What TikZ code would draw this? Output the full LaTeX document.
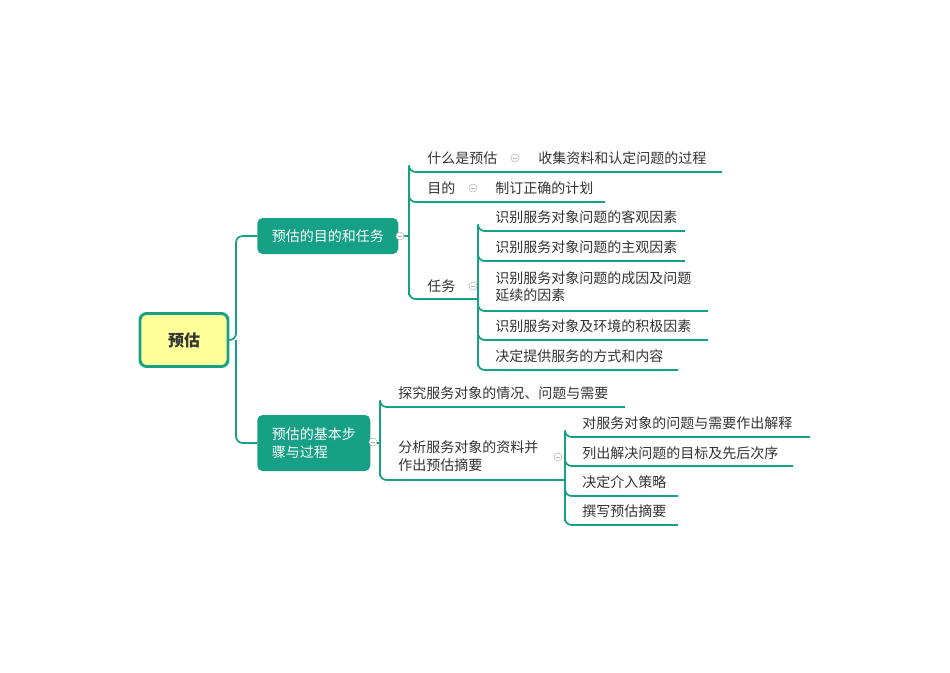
\documentclass[tikz,border=0pt]{standalone}
\usepackage{fontspec}
\newfontfamily\cjk{Noto Sans CJK SC}
\begin{document}
\begin{tikzpicture}[x=0.75pt,y=-0.75pt,
  ln/.style={draw=linec,line width=1.3pt},
  con/.style={draw=linec,line width=1.3pt,rounded corners=5pt},
  txt/.style={font=\cjk\fontsize{10.5}{13}\selectfont,text=txtc,anchor=west,inner sep=0pt,align=left},
  mainbox/.style={fill=linec,rounded corners=4pt,text=white,font=\cjk\fontsize{10.5}{14}\selectfont,align=left,inner sep=0pt},
  tog/.style={circle,draw=gray!60,fill=white,minimum size=6pt,inner sep=0pt,line width=0.4pt}]
\definecolor{linec}{HTML}{16A085}
\definecolor{txtc}{HTML}{333333}
\definecolor{rootc}{HTML}{FFFF99}
\useasboundingbox (0,0) rectangle (950,672);
% root
\node[draw=linec,line width=2.2pt,fill=rootc,rounded corners=5pt,minimum width=88pt*0.75,minimum height=53pt*0.75,font=\cjk\bfseries\fontsize{12}{14}\selectfont,text=txtc] (root) at (184,340) {预估};
\node[mainbox,minimum width=141*0.75pt,minimum height=36*0.75pt,anchor=west,inner xsep=9pt] (b1) at (257,236) {预估的目的和任务};
\node[mainbox,minimum width=113*0.75pt,minimum height=56*0.75pt,anchor=west,inner xsep=9pt] (b2) at (257,443) {预估的基本步\\骤与过程};
\coordinate (r1) at (236,340);
\draw[con] (root.east) -- (r1) |- (b1.west);
\draw[con] (r1) |- (b2.west);
% branch 1
\coordinate (t1) at (409,236);
\draw[ln] (b1.east) -- (t1);
\node[txt] (a1) at (427,158) {什么是预估};
\node[txt] (a1c) at (538,158) {收集资料和认定问题的过程};
\coordinate (a1s) at (409,172); \coordinate (a1e) at (722,172);
\draw[con] (t1) |- (a1s) -- (a1e);
\node[txt] (a2) at (427,188) {目的};
\node[txt] (a2c) at (495,188) {制订正确的计划};
\coordinate (a2s) at (409,202); \coordinate (a2e) at (605,202);
\draw[con] (t1) |- (a2s) -- (a2e);
\node[txt] (a3) at (427,286) {任务};
\coordinate (a3s) at (409,299); \coordinate (a3e) at (478,299);
\draw[con] (t1) |- (a3s) -- (a3e);
\node[txt] (c1) at (495,217) {识别服务对象问题的客观因素};
\node[txt] (c2) at (495,247) {识别服务对象问题的主观因素};
\node[txt] (c3) at (495,287) {识别服务对象问题的成因及问题\\延续的因素};
\node[txt] (c4) at (495,326) {识别服务对象及环境的积极因素};
\node[txt] (c5) at (495,356) {决定提供服务的方式和内容};
\foreach \n/\y/\e in {c1/231/685,c2/261/685,c3/311/708,c4/340/708,c5/370/678}{
  \coordinate (\n s) at (478,\y); \coordinate (\n e) at (\e,\y);
  \draw[con] (a3e) |- (\n s) -- (\n e);}
% branch 2
\coordinate (t2) at (380,443);
\draw[ln] (b2.east) -- (t2);
\node[txt] (d1) at (398,393) {探究服务对象的情况、问题与需要};
\coordinate (d1s) at (380,407); \coordinate (d1e) at (625,407);
\draw[con] (t2) |- (d1s) -- (d1e);
\node[txt] (d2) at (398,456) {分析服务对象的资料并\\作出预估摘要};
\coordinate (d2s) at (380,480); \coordinate (d2e) at (565,480);
\draw[con] (t2) |- (d2s) -- (d2e);
\node[txt] (e1) at (582,423) {对服务对象的问题与需要作出解释};
\node[txt] (e2) at (582,453) {列出解决问题的目标及先后次序};
\node[txt] (e3) at (582,482) {决定介入策略};
\node[txt] (e4) at (582,511) {撰写预估摘要};
\foreach \n/\y/\e in {e1/437/810,e2/466/793,e3/496/678,e4/525/678}{
  \coordinate (\n s) at (565,\y); \coordinate (\n e) at (\e,\y);
  \draw[con] (d2e) |- (\n s) -- (\n e);}
% toggles
\foreach \p/\q in {400/236,373/442,515/158,473/188,473/286,558/457}{
  \node[tog] at (\p,\q) {}; \draw[gray!60,line width=0.4pt] (\p-2,\q) -- (\p+2,\q);}
\end{tikzpicture}
\end{document}
